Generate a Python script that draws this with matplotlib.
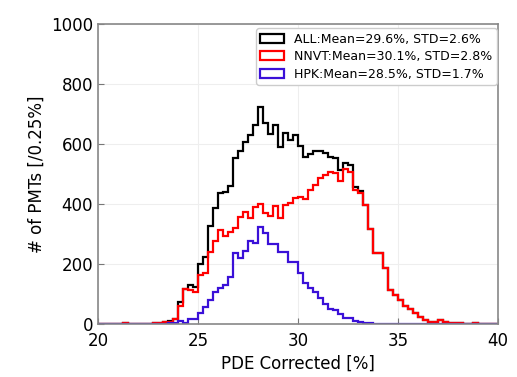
import matplotlib.pyplot as plt
from matplotlib.patches import Patch
import numpy as np

# PDE bins: 0.25 % wide from 20 % to 40 %
bin_edges = np.linspace(20.0, 40.0, 81)

all_counts = [
    0, 0, 0, 0, 0, 2, 1, 0, 0, 1,
    1, 2, 3, 6, 10, 17, 72, 118, 131, 123,
    200, 224, 325, 388, 435, 440, 460, 553, 578, 608,
    630, 662, 723, 670, 634, 664, 591, 638, 612, 630,
    592, 555, 568, 575, 577, 570, 555, 552, 512, 537,
    530, 457, 444, 398, 318, 238, 237, 188, 112, 97,
    80, 60, 50, 37, 24, 14, 7, 6, 12, 5,
    4, 4, 2, 1, 1, 2, 1, 1, 0, 1,
]
nnvt_counts = [
    0, 0, 0, 0, 0, 2, 1, 0, 0, 1,
    1, 2, 3, 5, 8, 15, 60, 115, 113, 107,
    163, 170, 240, 275, 313, 292, 307, 319, 358, 372,
    352, 391, 399, 369, 360, 393, 352, 397, 404, 420,
    422, 416, 447, 463, 486, 497, 508, 502, 478, 517,
    508, 447, 438, 395, 316, 237, 236, 188, 112, 97,
    80, 60, 50, 37, 24, 14, 7, 6, 12, 5,
    4, 4, 2, 1, 1, 2, 1, 1, 0, 1,
]
hpk_counts = [
    0, 0, 0, 0, 0, 0, 0, 0, 0, 0,
    0, 0, 0, 1, 2, 2, 10, 3, 16, 16,
    36, 55, 80, 106, 120, 130, 155, 235, 220, 242,
    277, 270, 323, 303, 268, 268, 240, 240, 207, 207,
    170, 137, 120, 108, 85, 66, 50, 47, 33, 20,
    20, 10, 5, 3, 2, 1, 1, 0, 0, 0,
    0, 0, 0, 0, 0, 0, 0, 0, 0, 0,
    0, 0, 0, 0, 0, 0, 0, 0, 0, 0,
]

labels = [
    "ALL:Mean=29.6%, STD=2.6%",
    "NNVT:Mean=30.1%, STD=2.8%",
    "HPK:Mean=28.5%, STD=1.7%",
]
colors = ["black", "#ff0000", "#3a10d8"]

fig = plt.figure(figsize=(5.17, 3.77), dpi=100)
ax = fig.add_axes([0.1896, 0.1406, 0.7737, 0.7958])

handles = []
for counts, label, color in zip([all_counts, nnvt_counts, hpk_counts], labels, colors):
    ax.stairs(counts, bin_edges, color=color, lw=1.6)
    handles.append(Patch(facecolor="none", edgecolor=color, lw=1.6, label=label))

ax.set_xlim(20, 40)
ax.set_ylim(0, 1000)
ax.set_xticks([20, 25, 30, 35, 40])
ax.set_yticks([0, 200, 400, 600, 800, 1000])
ax.tick_params(direction="in", labelsize=12, length=4, color="#777777")
ax.tick_params(axis="x", pad=6)
ax.grid(True, color="#eeeeee", lw=0.8)
ax.set_axisbelow(True)
for spine in ax.spines.values():
    spine.set_color("#888888")
    spine.set_linewidth(1.2)

ax.set_xlabel("PDE Corrected [%]", fontsize=12, labelpad=3)
ax.set_ylabel("# of PMTs [/0.25%]", fontsize=12)
ax.legend(handles=handles, loc="upper right", bbox_to_anchor=(0.997, 0.985),
          fontsize=9, frameon=True, framealpha=1.0, edgecolor="#cccccc",
          handlelength=1.9, handleheight=0.7, handletextpad=0.8,
          borderpad=0.35, labelspacing=0.35, borderaxespad=0.0)

fig.savefig("out.png", dpi=100)
